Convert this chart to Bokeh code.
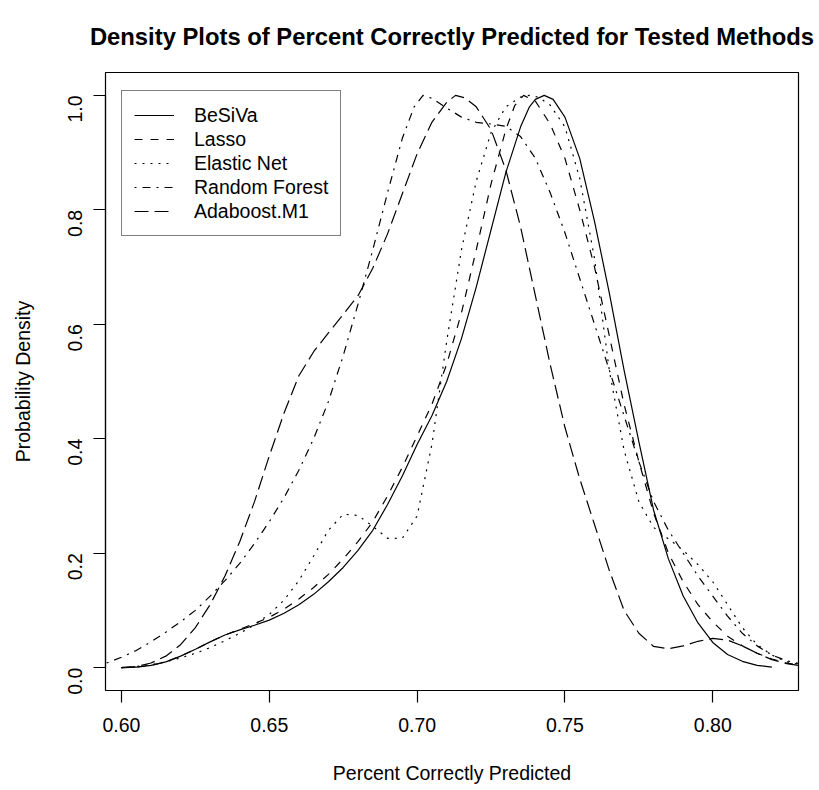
import math
from bokeh.plotting import figure
from bokeh.models import Range1d, FixedTicker, PrintfTickFormatter, Legend, LegendItem
from bokeh.embed import file_html
from bokeh.resources import INLINE

# ---- data ----
besiva_x = [0.600, 0.605, 0.610, 0.615, 0.620, 0.625, 0.630, 0.635, 0.640, 0.645, 0.650, 0.655, 0.660, 0.665,
            0.670, 0.675, 0.680, 0.685, 0.690, 0.695, 0.700, 0.705, 0.710, 0.715, 0.720, 0.725, 0.730, 0.735,
            0.738, 0.740, 0.743, 0.746, 0.750, 0.755, 0.760, 0.765, 0.770, 0.775, 0.780, 0.785, 0.790, 0.795,
            0.800, 0.805, 0.810, 0.815, 0.820]
besiva_y = [0.000, 0.001, 0.004, 0.010, 0.020, 0.032, 0.045, 0.057, 0.066, 0.074, 0.083, 0.095, 0.110, 0.128,
            0.150, 0.175, 0.205, 0.240, 0.285, 0.335, 0.390, 0.440, 0.500, 0.575, 0.665, 0.765, 0.865, 0.945,
            0.980, 0.993, 1.000, 0.993, 0.962, 0.890, 0.780, 0.655, 0.520, 0.395, 0.275, 0.190, 0.125, 0.078,
            0.044, 0.023, 0.011, 0.004, 0.001]

lasso_x = [0.600, 0.605, 0.610, 0.615, 0.620, 0.625, 0.630, 0.635, 0.640, 0.645, 0.650, 0.655, 0.660, 0.665,
           0.670, 0.675, 0.680, 0.685, 0.690, 0.695, 0.700, 0.705, 0.710, 0.715, 0.720, 0.725, 0.730, 0.733,
           0.736, 0.740, 0.745, 0.750, 0.755, 0.760, 0.765, 0.770, 0.775, 0.780, 0.785, 0.790, 0.795, 0.800,
           0.805, 0.810, 0.815, 0.820, 0.825, 0.830]
lasso_y = [0.000, 0.001, 0.004, 0.010, 0.020, 0.032, 0.045, 0.057, 0.067, 0.077, 0.088, 0.102, 0.120, 0.140,
           0.163, 0.190, 0.220, 0.255, 0.300, 0.350, 0.405, 0.460, 0.530, 0.620, 0.730, 0.845, 0.940, 0.982,
           1.000, 0.990, 0.950, 0.890, 0.800, 0.700, 0.580, 0.460, 0.360, 0.270, 0.200, 0.150, 0.110, 0.080,
           0.055, 0.038, 0.025, 0.015, 0.008, 0.004]

enet_x = [0.600, 0.605, 0.610, 0.615, 0.620, 0.625, 0.630, 0.635, 0.640, 0.645, 0.650, 0.655, 0.660, 0.665,
          0.670, 0.675, 0.680, 0.685, 0.690, 0.695, 0.700, 0.705, 0.710, 0.715, 0.720, 0.725, 0.730, 0.735,
          0.738, 0.741, 0.745, 0.750, 0.755, 0.760, 0.765, 0.770, 0.775, 0.780, 0.785, 0.790, 0.795, 0.800,
          0.805, 0.810, 0.815, 0.820, 0.825, 0.830]
enet_y = [0.000, 0.002, 0.005, 0.010, 0.017, 0.025, 0.035, 0.047, 0.060, 0.075, 0.093, 0.118, 0.152, 0.195,
          0.240, 0.268, 0.266, 0.247, 0.226, 0.226, 0.265, 0.390, 0.570, 0.730, 0.850, 0.935, 0.980, 0.997,
          1.000, 0.997, 0.983, 0.945, 0.855, 0.715, 0.520, 0.380, 0.290, 0.245, 0.225, 0.205, 0.180, 0.150,
          0.110, 0.070, 0.040, 0.022, 0.010, 0.005]

rf_x = [0.595, 0.600, 0.605, 0.610, 0.615, 0.620, 0.625, 0.630, 0.635, 0.640, 0.645, 0.650, 0.655, 0.660,
        0.665, 0.670, 0.675, 0.680, 0.685, 0.690, 0.695, 0.699, 0.702, 0.705, 0.710, 0.715, 0.720, 0.725,
        0.730, 0.735, 0.740, 0.745, 0.750, 0.755, 0.760, 0.765, 0.770, 0.775, 0.780, 0.785, 0.790, 0.795,
        0.800, 0.805, 0.810, 0.815, 0.820, 0.825, 0.830]
rf_y = [0.008, 0.018, 0.030, 0.045, 0.062, 0.080, 0.100, 0.125, 0.152, 0.182, 0.217, 0.255, 0.297, 0.345,
        0.400, 0.465, 0.545, 0.635, 0.730, 0.830, 0.925, 0.980, 1.000, 0.995, 0.978, 0.962, 0.953, 0.950,
        0.946, 0.928, 0.890, 0.830, 0.760, 0.680, 0.600, 0.520, 0.440, 0.360, 0.290, 0.240, 0.200, 0.160,
        0.125, 0.090, 0.060, 0.038, 0.022, 0.012, 0.006]

ada_x = [0.600, 0.605, 0.610, 0.615, 0.620, 0.625, 0.630, 0.635, 0.640, 0.645, 0.650, 0.655, 0.660, 0.665,
         0.670, 0.675, 0.680, 0.685, 0.690, 0.695, 0.700, 0.705, 0.710, 0.713, 0.716, 0.720, 0.725, 0.730,
         0.735, 0.740, 0.745, 0.750, 0.755, 0.760, 0.765, 0.770, 0.775, 0.780, 0.785, 0.790, 0.795, 0.800,
         0.805, 0.810, 0.815, 0.820, 0.825, 0.830]
ada_y = [0.000, 0.002, 0.008, 0.020, 0.040, 0.070, 0.110, 0.160, 0.220, 0.290, 0.370, 0.445, 0.510, 0.552,
         0.585, 0.617, 0.650, 0.698, 0.758, 0.828, 0.898, 0.953, 0.988, 1.000, 0.996, 0.980, 0.940, 0.870,
         0.770, 0.650, 0.530, 0.420, 0.330, 0.250, 0.170, 0.100, 0.060, 0.037, 0.033, 0.038, 0.046, 0.051,
         0.048, 0.038, 0.025, 0.014, 0.007, 0.003]

series_names = ["BeSiVa", "Lasso", "Elastic Net", "Random Forest", "Adaboost.M1"]
x_ticks = [0.60, 0.65, 0.70, 0.75, 0.80]
y_ticks = [0.0, 0.2, 0.4, 0.6, 0.8, 1.0]
title_text = "Density Plots of Percent Correctly Predicted for Tested Methods"

FONT = "Liberation Sans"
X0, X1 = 0.5946, 0.829
Y0, Y1 = -0.04, 1.04

p = figure(width=819, height=786, output_backend="svg", toolbar_location=None,
           x_range=Range1d(X0, X1), y_range=Range1d(Y0, Y1),
           min_border_left=105, min_border_right=21, min_border_top=72, min_border_bottom=94,
           title=title_text)
p.grid.visible = False
p.outline_line_color = "black"
p.outline_line_width = 1.2
p.background_fill_color = "white"
p.border_fill_color = "white"

p.title.text_font = FONT
p.title.text_font_size = "23.8px"
p.title.text_font_style = "bold"
p.title.text_color = "black"
p.title.align = "center"
p.title.vertical_align = "top"
p.title.standoff = 41

for ax in (p.xaxis[0], p.yaxis[0]):
    ax.axis_line_color = "black"
    ax.axis_line_width = 1.2
    ax.major_tick_line_color = "black"
    ax.major_tick_line_width = 1.2
    ax.major_tick_out = 12
    ax.major_tick_in = 0
    ax.minor_tick_line_color = None
    ax.major_label_text_font = FONT
    ax.major_label_text_font_size = "19.5px"
    ax.major_label_text_color = "black"
    ax.axis_label_text_font = FONT
    ax.axis_label_text_font_size = "19.5px"
    ax.axis_label_text_font_style = "normal"
    ax.axis_label_text_color = "black"

p.xaxis.ticker = FixedTicker(ticks=x_ticks)
p.xaxis.formatter = PrintfTickFormatter(format="%.2f")
p.xaxis.bounds = (x_ticks[0], x_ticks[-1])
p.xaxis.axis_label = "Percent Correctly Predicted"
p.xaxis.major_label_standoff = 15
p.xaxis.axis_label_standoff = 27

p.yaxis.ticker = FixedTicker(ticks=y_ticks)
p.yaxis.formatter = PrintfTickFormatter(format="%.1f")
p.yaxis.bounds = (y_ticks[0], y_ticks[-1])
p.yaxis.axis_label = "Probability Density"
p.yaxis.major_label_orientation = math.pi / 2
p.yaxis.major_label_standoff = 18
p.yaxis.axis_label_standoff = 25

LW = 1.2
r1 = p.line(besiva_x, besiva_y, line_color="black", line_width=LW, line_dash="solid")
r2 = p.line(lasso_x, lasso_y, line_color="black", line_width=LW, line_dash="8 8")
r3 = p.line(enet_x, enet_y, line_color="black", line_width=LW, line_dash="2 6")
r4 = p.line(rf_x, rf_y, line_color="black", line_width=LW, line_dash="2 6 8 6")
r5 = p.line(ada_x, ada_y, line_color="black", line_width=LW, line_dash="14 6")

legend = Legend(items=[LegendItem(label=n, renderers=[r]) for n, r in zip(series_names, [r1, r2, r3, r4, r5])],
                location=(16, 454))
legend.border_line_color = "black"
legend.border_line_width = 1.2
legend.background_fill_color = "white"
legend.background_fill_alpha = 1.0
legend.label_text_font = FONT
legend.label_text_font_size = "19.5px"
legend.label_text_color = "black"
legend.glyph_width = 40
legend.glyph_height = 24
legend.label_height = 24
legend.label_standoff = 20
legend.spacing = 0
legend.padding = 12
legend.margin = 0
p.add_layout(legend, "center")

open("out.html", "w").write(file_html(p, INLINE))
